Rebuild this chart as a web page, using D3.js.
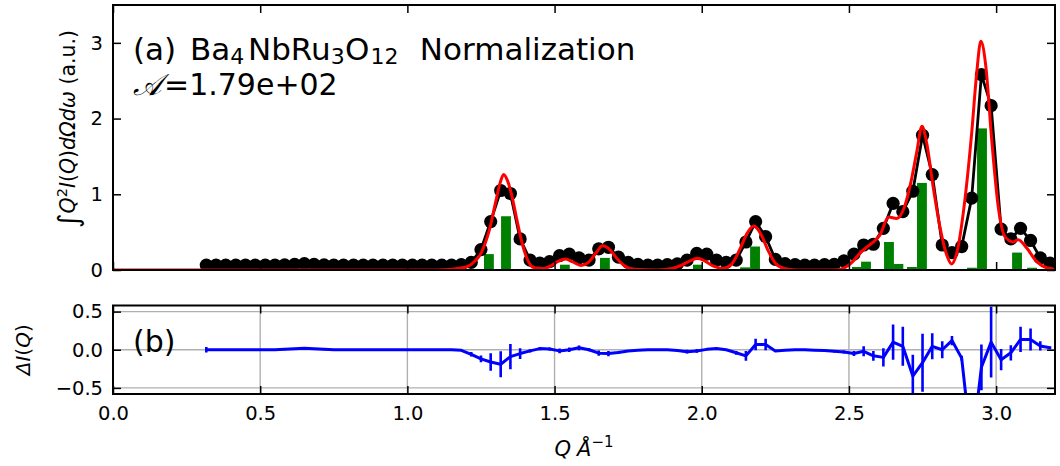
<!DOCTYPE html>
<html><head><meta charset="utf-8">
<script src="https://cdn.jsdelivr.net/npm/d3@7"></script>
<style>
html,body{margin:0;padding:0;background:#fff;}
text{font-family:"DejaVu Sans",sans-serif;}
</style></head>
<body><svg id="c" width="1060" height="466"></svg>
<script>
// ---- data ----
const qObs = [0.317,0.350,0.383,0.417,0.450,0.483,0.517,0.550,0.583,0.617,
0.650,0.683,0.717,0.750,0.783,0.817,0.850,0.883,0.917,0.950,
0.983,1.017,1.050,1.083,1.117,1.150,1.183,1.217,1.250,1.283,
1.317,1.350,1.383,1.417,1.450,1.483,1.517,1.550,1.583,1.617,
1.650,1.683,1.717,1.750,1.783,1.817,1.850,1.883,1.917,1.950,
1.983,2.017,2.050,2.083,2.117,2.150,2.183,2.217,2.250,2.283,
2.317,2.350,2.383,2.417,2.450,2.483,2.517,2.550,2.583,2.617,
2.650,2.683,2.717,2.750,2.783,2.817,2.850,2.883,2.917,2.950,
2.983,3.017,3.050,3.083,3.117,3.150,3.183];
const iObs = [0.065,0.065,0.065,0.065,0.065,0.065,0.065,0.065,0.068,0.075,
0.085,0.075,0.068,0.065,0.065,0.065,0.065,0.065,0.065,0.065,
0.065,0.065,0.065,0.065,0.065,0.065,0.07,0.10,0.27,0.64,
1.05,1.01,0.41,0.13,0.09,0.11,0.19,0.21,0.16,0.13,
0.28,0.30,0.17,0.10,0.075,0.065,0.065,0.07,0.08,0.13,
0.22,0.21,0.13,0.10,0.13,0.37,0.64,0.44,0.14,0.085,
0.07,0.065,0.065,0.07,0.075,0.12,0.21,0.33,0.34,0.55,
0.88,0.77,1.04,1.78,1.26,0.33,0.23,0.31,0.95,2.58,
2.17,0.54,0.41,0.55,0.39,0.16,0.09];
const qCalc = [0.00,1.10,1.15,1.20,1.23,1.25,1.265,1.28,1.30,1.315,1.327,1.34,1.355,1.37,1.39,1.41,1.43,1.46,1.49,1.515,
1.537,1.56,1.59,1.615,1.64,1.663,1.69,1.71,1.74,1.77,1.85,1.90,1.93,1.96,1.985,2.01,2.04,2.07,2.10,2.13,
2.155,2.177,2.20,2.225,2.25,2.28,2.32,2.45,2.49,2.515,2.537,2.56,2.58,2.605,2.635,2.662,2.69,2.71,2.73,2.748,
2.764,2.786,2.809,2.832,2.848,2.866,2.894,2.917,2.934,2.948,2.965,2.985,3.007,3.03,3.058,3.075,3.104,3.138,3.171,3.20];
const iCalc = [0,0,0.01,0.04,0.12,0.22,0.36,0.55,0.90,1.15,1.26,1.18,0.98,0.70,0.35,0.12,0.03,0.02,0.06,0.12,
0.145,0.11,0.06,0.10,0.22,0.32,0.26,0.16,0.05,0.01,0,0.02,0.06,0.12,0.155,0.12,0.05,0.02,0.07,0.28,
0.49,0.58,0.48,0.26,0.09,0.02,0,0,0.04,0.12,0.22,0.30,0.36,0.46,0.70,0.68,0.85,1.15,1.55,1.90,
1.68,1.10,0.57,0.20,0.08,0.22,0.93,1.81,2.60,3.02,2.69,1.72,0.84,0.44,0.37,0.40,0.29,0.11,0.03,0.01];
const qBar = [1.277,1.335,1.535,1.671,1.987,2.147,2.181,2.527,2.558,2.636,2.668,2.714,2.748,2.918,2.952,3.071,3.122];
const hBar = [0.21,0.71,0.07,0.16,0.07,0.035,0.31,0.04,0.11,0.37,0.08,0.04,1.15,0.03,1.87,0.23,0.03];
const resid = [0,0,0,0,0,0,0,0,0.005,0.012,
0.02,0.012,0.005,0,0,0,0,0,0,0,
0,0,0,0,0,0,-0.008,-0.06,-0.12,-0.16,
-0.19,-0.09,-0.05,-0.015,0.015,0.01,-0.015,0,0.025,0,
-0.045,-0.05,-0.035,-0.015,-0.005,0,0,0,-0.01,-0.025,
-0.015,0.005,0.015,0,-0.04,-0.08,0.07,0.07,-0.015,-0.005,
0,0,-0.005,-0.01,-0.02,-0.03,-0.05,-0.02,-0.08,-0.10,
0.10,0.045,-0.345,-0.17,0.045,0,0.12,-0.11,-1.30,-0.23,
0.10,-0.13,-0.04,0.135,0.135,0.05,0.025];
const residErr = [0.035,0.01,0.01,0.01,0.01,0.01,0.01,0.01,0.01,0.01,
0.01,0.01,0.01,0.01,0.01,0.01,0.01,0.01,0.01,0.01,
0.01,0.01,0.01,0.01,0.01,0.01,0.01,0.03,0.045,0.115,
0.17,0.167,0.07,0.02,0.02,0.02,0.03,0.03,0.03,0.02,
0.035,0.035,0.02,0.01,0.01,0.01,0.01,0.01,0.01,0.025,
0.025,0.01,0.01,0.01,0.025,0.065,0.075,0.075,0.015,0.01,
0.01,0.01,0.01,0.01,0.015,0.02,0.033,0.065,0.065,0.12,
0.23,0.255,0.28,0.38,0.17,0.11,0.06,0.03,0.35,0.30,
0.465,0.14,0.10,0.165,0.145,0.06,0.02];
const xTicks = [0.0,0.5,1.0,1.5,2.0,2.5,3.0];
const yTopTicks = [0,1,2,3];
const yBotTicks = [-0.5,0.0,0.5];

// ---- layout ----
const svg = d3.select("#c");
const L = 113, R = 1055;
const topT = 5, topB = 270, botT = 305.5, botB = 394;
const x = d3.scaleLinear().domain([0,3.2]).range([L,R]);
const yT = d3.scaleLinear().domain([0,3.5]).range([topB,topT]);
const yB = d3.scaleLinear().domain([-0.58,0.58]).range([botB,botT]);

const defs = svg.append("defs");
defs.append("clipPath").attr("id","cpT").append("rect").attr("x",L).attr("y",topT).attr("width",R-L).attr("height",topB-topT);
defs.append("clipPath").attr("id","cpB").append("rect").attr("x",L).attr("y",botT).attr("width",R-L).attr("height",botB-botT);

// ---- top panel ----
const gT = svg.append("g").attr("clip-path","url(#cpT)");
const bw = x(0.0335)-x(0);
gT.selectAll("rect.bar").data(qBar).join("rect")
  .attr("x",(d)=>x(d)-bw/2).attr("width",bw)
  .attr("y",(d,i)=>yT(hBar[i])).attr("height",(d,i)=>yT(0)-yT(hBar[i]))
  .attr("fill","#008000");
gT.append("path").datum(qObs)
  .attr("d",d3.line().x(d=>x(d)).y((d,i)=>yT(iObs[i])))
  .attr("fill","none").attr("stroke","#000").attr("stroke-width",2.8);
gT.selectAll("circle").data(qObs).join("circle")
  .attr("cx",d=>x(d)).attr("cy",(d,i)=>yT(iObs[i])).attr("r",6.6).attr("fill","#000");
gT.append("path").datum(qCalc)
  .attr("d",d3.line().x(d=>x(d)).y((d,i)=>yT(iCalc[i])).curve(d3.curveMonotoneX))
  .attr("fill","none").attr("stroke","#ff0000").attr("stroke-width",3);

// ---- bottom panel ----
const gridB = svg.append("g");
gridB.selectAll("line.gx").data(xTicks).join("line")
  .attr("x1",d=>x(d)).attr("x2",d=>x(d)).attr("y1",botT).attr("y2",botB)
  .attr("stroke","#b0b0b0").attr("stroke-width",1.4);
gridB.selectAll("line.gy").data(yBotTicks).join("line")
  .attr("x1",L).attr("x2",R).attr("y1",d=>yB(d)).attr("y2",d=>yB(d))
  .attr("stroke","#b0b0b0").attr("stroke-width",1.4);
const gB = svg.append("g").attr("clip-path","url(#cpB)");
gB.selectAll("line.err").data(qObs).join("line")
  .attr("x1",d=>x(d)).attr("x2",d=>x(d))
  .attr("y1",(d,i)=>yB(resid[i]-residErr[i])).attr("y2",(d,i)=>yB(resid[i]+residErr[i]))
  .attr("stroke","#0000ff").attr("stroke-width",2.6);
gB.append("path").datum(qObs)
  .attr("d",d3.line().x(d=>x(d)).y((d,i)=>yB(resid[i])))
  .attr("fill","none").attr("stroke","#0000ff").attr("stroke-width",3).attr("stroke-linejoin","round");

// ---- axes ----
const fs = 19.5;
function styleAxis(g){
  g.select(".domain").remove();
  g.selectAll(".tick line").attr("stroke","#000").attr("stroke-width",1.5);
  g.selectAll(".tick text").attr("font-size",fs).attr("fill","#000").attr("font-family","DejaVu Sans");
}
const f1 = d3.format(".1f"), f0 = d3.format("d");
svg.append("g").attr("transform",`translate(${L},0)`).call(d3.axisLeft(yT).tickValues(yTopTicks).tickFormat(f0).tickSizeInner(-8).tickSizeOuter(0).tickPadding(10)).call(styleAxis);
svg.append("g").attr("transform",`translate(${R},0)`).call(d3.axisRight(yT).tickValues(yTopTicks).tickFormat("").tickSizeInner(-8).tickSizeOuter(0)).call(styleAxis);
svg.append("g").attr("transform",`translate(0,${topB})`).call(d3.axisBottom(x).tickValues(xTicks).tickFormat("").tickSizeInner(-8).tickSizeOuter(0)).call(styleAxis);
svg.append("g").attr("transform",`translate(0,${topT})`).call(d3.axisTop(x).tickValues(xTicks).tickFormat("").tickSizeInner(-8).tickSizeOuter(0)).call(styleAxis);

svg.append("g").attr("transform",`translate(${L},0)`).call(d3.axisLeft(yB).tickValues(yBotTicks).tickFormat(f1).tickSizeInner(-8).tickSizeOuter(0).tickPadding(10)).call(styleAxis);
svg.append("g").attr("transform",`translate(${R},0)`).call(d3.axisRight(yB).tickValues(yBotTicks).tickFormat("").tickSizeInner(-8).tickSizeOuter(0)).call(styleAxis);
svg.append("g").attr("transform",`translate(0,${botB})`).call(d3.axisBottom(x).tickValues(xTicks).tickFormat(f1).tickSizeInner(-8).tickSizeOuter(0).tickPadding(12)).call(styleAxis);
svg.append("g").attr("transform",`translate(0,${botT})`).call(d3.axisTop(x).tickValues(xTicks).tickFormat("").tickSizeInner(-8).tickSizeOuter(0)).call(styleAxis);

// frames
[[topT,topB],[botT,botB]].forEach(([t,b])=>{
  svg.append("rect").attr("x",L).attr("y",t).attr("width",R-L).attr("height",b-t)
    .attr("fill","none").attr("stroke","#000").attr("stroke-width",2);
});

// ---- text ----
const t1 = svg.append("text").attr("x",133).attr("y",60).attr("font-size",31).attr("fill","#000");
t1.append("tspan").text("(a)");
t1.append("tspan").attr("x",190).text("Ba");
t1.append("tspan").attr("font-size",22).attr("dy",4).text("4");
t1.append("tspan").attr("x",248).attr("dy",-4).text("NbRu");
t1.append("tspan").attr("font-size",22).attr("dy",4).text("3");
t1.append("tspan").attr("x",345).attr("dy",-4).text("O");
t1.append("tspan").attr("font-size",22).attr("dy",4).attr("dx",1).text("12");
t1.append("tspan").attr("dy",-4).attr("x",410).text(" Normalization");

const t2 = svg.append("text").attr("x",133).attr("y",95).attr("font-size",30).attr("fill","#000");
t2.append("tspan").attr("font-family","DejaVu Serif").attr("font-style","italic").text("\u{1D49C}");
t2.append("tspan").attr("dx",3).text("=1.79e+02");

svg.append("text").attr("x",133).attr("y",352).attr("font-size",30).attr("fill","#000").text("(b)");

// y labels
const yl1 = svg.append("text").attr("transform",`translate(75,129) rotate(-90)`)
  .attr("text-anchor","middle").attr("font-size",20.5).attr("fill","#000");
yl1.append("tspan").attr("font-size",28).attr("dy",3).text("\u222B");
yl1.append("tspan").attr("font-style","italic").attr("dy",-3).text("Q");
yl1.append("tspan").attr("font-size",14.5).attr("dy",-8).text("2");
yl1.append("tspan").attr("font-style","italic").attr("dy",8).text("I");
yl1.append("tspan").text("(");
yl1.append("tspan").attr("font-style","italic").text("Q");
yl1.append("tspan").text(")");
yl1.append("tspan").attr("font-style","italic").text("d\u03A9d\u03C9");
yl1.append("tspan").text(" (a.u.)");

const yl2 = svg.append("text").attr("transform",`translate(30,${(botT+botB)/2}) rotate(-90)`)
  .attr("text-anchor","middle").attr("font-size",20).attr("fill","#000");
yl2.append("tspan").attr("font-style","italic").text("\u0394I");
yl2.append("tspan").text("(");
yl2.append("tspan").attr("font-style","italic").text("Q");
yl2.append("tspan").text(")");

// x label
const xl = svg.append("text").attr("x",(L+R)/2).attr("y",456).attr("text-anchor","middle").attr("font-size",21).attr("fill","#000");
xl.append("tspan").attr("font-style","italic").text("Q");
xl.append("tspan").attr("font-style","italic").attr("dx",6).text("\u00C5");
xl.append("tspan").attr("font-size",15).attr("dy",-9).text("\u22121");
</script></body></html>
